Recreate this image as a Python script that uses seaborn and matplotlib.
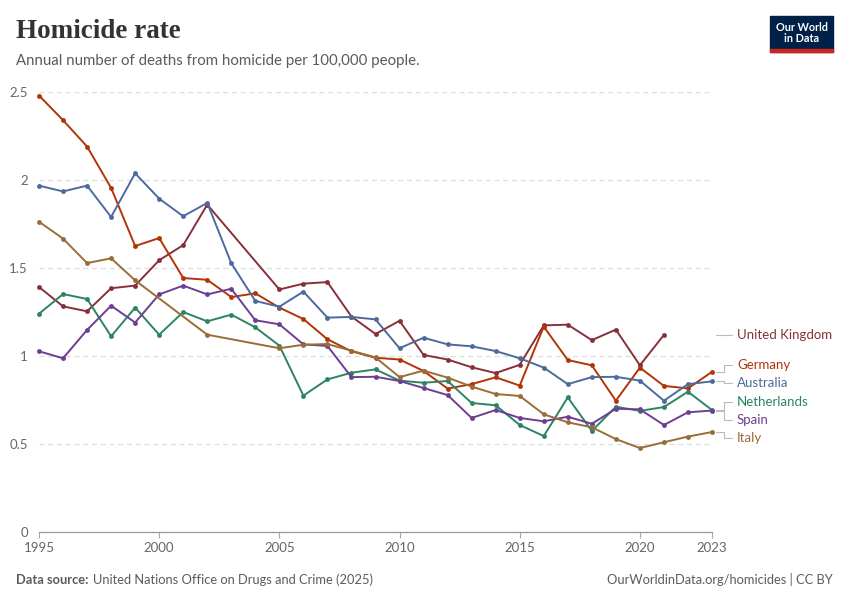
import numpy as np
import pandas as pd
import seaborn as sns
import matplotlib.pyplot as plt
from matplotlib.patches import Rectangle

# Homicide rate, deaths per 100,000 people
years = list(range(1995, 2024))
nan = np.nan

united_kingdom = [1.392, 1.282, 1.254, 1.385, 1.40, 1.544, 1.63, 1.86, nan, nan,
                  1.378, 1.411, 1.42, 1.224, 1.125, 1.20, 1.006, 0.98, 0.936, 0.903,
                  0.95, 1.174, 1.178, 1.09, 1.15, 0.947, 1.12, nan, nan]
germany = [2.48, 2.34, 2.19, 1.955, 1.625, 1.67, 1.443, 1.433, 1.335, 1.356,
           1.275, 1.21, 1.095, 1.027, 0.99, 0.98, 0.915, 0.815, 0.84, 0.879,
           0.832, 1.167, 0.977, 0.947, 0.746, 0.934, 0.83, 0.816, 0.91]
australia = [1.968, 1.935, 1.968, 1.79, 2.038, 1.894, 1.794, 1.87, 1.527, 1.313,
             1.28, 1.366, 1.218, 1.222, 1.208, 1.044, 1.104, 1.066, 1.055, 1.028,
             0.987, 0.934, 0.84, 0.88, 0.882, 0.86, 0.746, 0.84, 0.856]
netherlands = [1.24, 1.352, 1.324, 1.112, 1.275, 1.121, 1.25, 1.197, 1.235, 1.163,
               1.059, 0.775, 0.867, 0.905, 0.924, 0.86, 0.848, 0.858, 0.733, 0.72,
               0.608, 0.545, 0.765, 0.574, 0.712, 0.688, 0.71, 0.797, 0.693]
spain = [1.027, 0.987, 1.148, 1.286, 1.19, 1.35, 1.40, 1.35, 1.382, 1.203,
         1.18, 1.066, 1.057, 0.88, 0.882, 0.858, 0.818, 0.778, 0.648, 0.693,
         0.648, 0.629, 0.655, 0.615, 0.70, 0.697, 0.608, 0.68, 0.69]
italy = [1.763, 1.667, 1.528, 1.555, 1.43, nan, nan, 1.121, nan, nan,
         1.044, 1.064, 1.068, 1.03, 0.992, 0.88, 0.917, 0.877, 0.826, 0.784,
         0.773, 0.669, 0.623, 0.595, 0.528, 0.477, 0.51, 0.542, 0.568]

countries = ["United Kingdom", "Germany", "Australia", "Netherlands", "Spain", "Italy"]
series = [united_kingdom, germany, australia, netherlands, spain, italy]
colors = ["#883039", "#B13507", "#4C6A9C", "#2C8465", "#6D3E91", "#996D39"]
# where the right-hand labels sit (data units), spread so they don't overlap
label_y = [1.119, 0.949, 0.847, 0.739, 0.636, 0.534]

rows = []
for name, vals in zip(countries, series):
    for yr, v in zip(years, vals):
        rows.append({"year": yr, "country": name, "rate": v})
df = pd.DataFrame(rows).dropna()

sns.set_theme(style="white")
plt.rcParams["font.family"] = ["Lato", "DejaVu Sans"]

fig = plt.figure(figsize=(8.5, 6), dpi=100)
ax = fig.add_axes([39 / 850, 68 / 600, 673 / 850, 440 / 600])

palette = dict(zip(countries, colors))
sns.lineplot(data=df, x="year", y="rate", hue="country", hue_order=countries,
             palette=palette, marker="o", markersize=3.5, markeredgewidth=0,
             linewidth=1.4, legend=False, ax=ax, clip_on=False)

ax.set_xlim(1995, 2023)
ax.set_ylim(0, 2.5)
ax.set_xlabel("")
ax.set_ylabel("")

for g in [0.5, 1, 1.5, 2, 2.5]:
    ax.axhline(g, color="#dddddd", lw=0.9, ls=(0, (4, 3)), zorder=0)

for s in ["top", "right", "left"]:
    ax.spines[s].set_visible(False)
ax.spines["bottom"].set_color("#999999")
ax.spines["bottom"].set_linewidth(0.9)

ax.set_yticks([0, 0.5, 1, 1.5, 2, 2.5])
ax.set_yticklabels(["0", "0.5", "1", "1.5", "2", "2.5"])
ax.set_xticks([1995, 2000, 2005, 2010, 2015, 2020, 2023])
ax.tick_params(axis="y", length=0, pad=8, labelsize=9.5, labelcolor="#666666")
ax.tick_params(axis="x", length=4, width=0.8, color="#aaaaaa", pad=3,
               labelsize=9.5, labelcolor="#666666", bottom=True)

# right-hand labels with elbow connectors
px = 1 / 673
trans = ax.get_yaxis_transform()
for name, vals, col, ly in zip(countries, series, colors, label_y):
    last = [v for v in vals if not np.isnan(v)][-1]
    ax.plot([1 + 4 * px, 1 + 12 * px, 1 + 12 * px, 1 + 20 * px],
            [last, last, ly, ly], transform=trans, color="#bbbbbb",
            lw=0.8, clip_on=False)
    ax.text(1 + 25 * px, ly, name, transform=trans, color=col,
            fontsize=9.5, va="center", ha="left")

# header
fig.text(16 / 850, 1 - 32 / 600, "Homicide rate", fontsize=19.5, fontweight="bold",
         family=["Liberation Serif", "DejaVu Serif"], color="#333333", va="center")
fig.text(16 / 850, 1 - 61 / 600,
         "Annual number of deaths from homicide per 100,000 people.",
         fontsize=10.8, color="#5b5b5b", va="center")

# logo
fig.patches.append(Rectangle((770 / 850, 1 - 52 / 600), 63 / 850, 36 / 600,
                             transform=fig.transFigure, color="#002147", zorder=5))
fig.patches.append(Rectangle((770 / 850, 1 - 52 / 600), 63 / 850, 3 / 600,
                             transform=fig.transFigure, color="#ce261e", zorder=6))
fig.text(801.5 / 850, 1 - 33 / 600, "Our World\nin Data", color="white",
         fontsize=7.8, fontweight="bold", ha="center", va="center",
         linespacing=1.05, zorder=7)

# footer
src = fig.text(16 / 850, 1 - 586 / 600, "Data source:", fontsize=9.3,
               fontweight="bold", color="#5b5b5b", va="bottom")
plt.annotate("United Nations Office on Drugs and Crime (2025)", xy=(1, 0),
             xycoords=src, xytext=(3, 0), textcoords="offset points",
             fontsize=9.3, color="#5b5b5b", va="bottom")
fig.text(833 / 850, 1 - 586 / 600, "OurWorldinData.org/homicides | CC BY",
         fontsize=9.3, color="#5b5b5b", va="bottom", ha="right")

fig.savefig("out.png", dpi=100, facecolor="white")
